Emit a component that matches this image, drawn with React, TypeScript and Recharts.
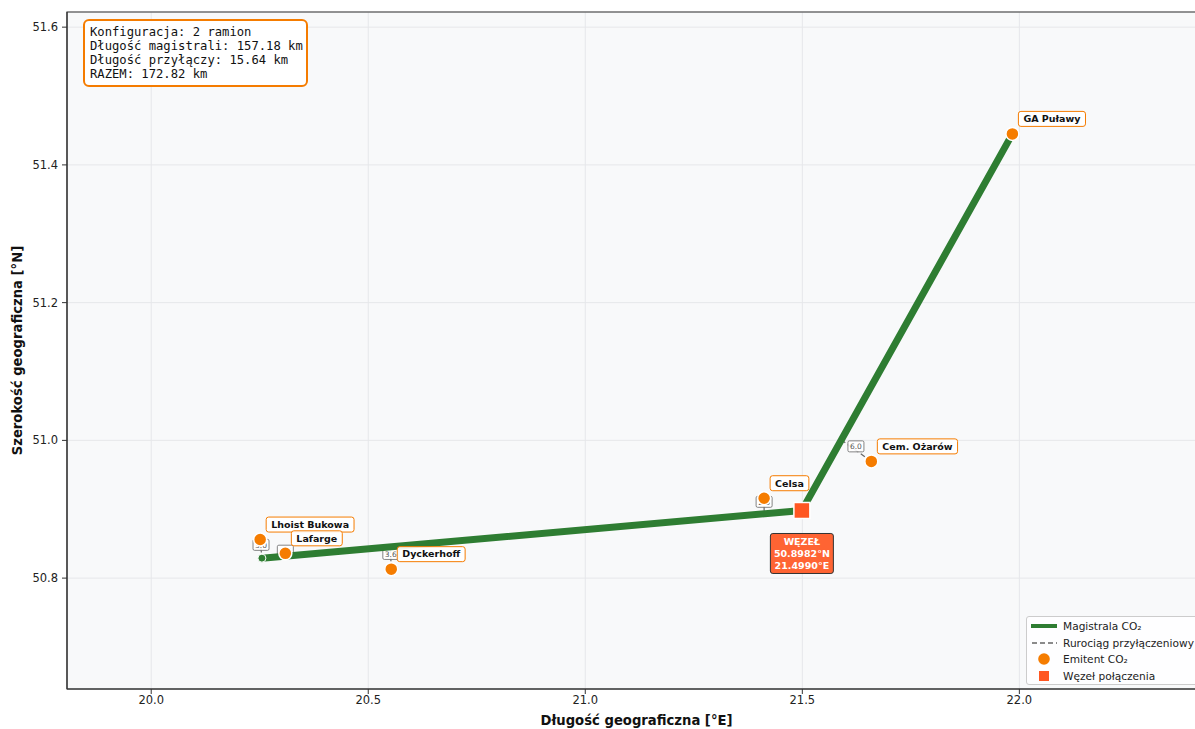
import { ScatterChart, Scatter, XAxis, YAxis, CartesianGrid, ReferenceArea } from "recharts";

// emitters (lon, lat)
const emitterNames = ["Lhoist Bukowa", "Lafarge", "Dyckerhoff", "Celsa", "Cem. Ożarów", "GA Puławy"];
const emitterLon = [20.251, 20.309, 20.553, 21.412, 21.659, 21.984];
const emitterLat = [50.856, 50.836, 50.813, 50.916, 50.9695, 51.445];

// connection pipes: emitter -> tie-in point on trunk
const pipeEmitter = [0, 1, 2, 3, 4];
const pipeTieLon = [20.255, 20.309, 20.551, 21.412, 21.588];
const pipeTieLat = [50.829, 50.832, 50.8456, 50.894, 51.0015];
const pipeKm = ["3.0", "0.4", "3.6", "2.6", "6.0"];

// trunk line
const trunkLon = [20.255, 21.499, 21.984];
const trunkLat = [50.829, 50.8982, 51.445];

const nodeLon = 21.499;
const nodeLat = 50.8982;

const xTicks = [20.0, 20.5, 21.0, 21.5, 22.0];
const yTicks = [50.8, 51.0, 51.2, 51.4, 51.6];
const xDomain = [19.806, 22.43];
const yDomain = [50.639, 51.622];

const infoLines = [
  "Konfiguracja: 2 ramion",
  "Długość magistrali: 157.18 km",
  "Długość przyłączy: 15.64 km",
  "RAZEM: 172.82 km",
];

const ORANGE = "#f57c00";
const NODE = "#ff5722";
const GREEN = "#2e7d32";
const FONT = "DejaVu Sans, sans-serif";

let ctx: CanvasRenderingContext2D | null = null;
function measure(text: string, font: string) {
  if (!ctx) ctx = document.createElement("canvas").getContext("2d");
  if (!ctx) return text.length * 6;
  ctx.font = font;
  return ctx.measureText(text).width;
}

const emitters = emitterNames.map((name, i) => ({ x: emitterLon[i], y: emitterLat[i], name }));
const trunk = trunkLon.map((x, i) => ({ x, y: trunkLat[i] }));
const pipes = pipeEmitter.map((e, i) => [
  { x: emitterLon[e], y: emitterLat[e] },
  { x: pipeTieLon[i], y: pipeTieLat[i] },
]);
const pipeMids = pipeEmitter.map((e, i) => ({
  x: (emitterLon[e] + pipeTieLon[i]) / 2,
  y: (emitterLat[e] + pipeTieLat[i]) / 2,
  km: pipeKm[i],
}));

const EmitterDot = (p: any) => (
  <circle cx={p.cx} cy={p.cy} r={6.5} fill={ORANGE} stroke="#fff" strokeWidth={1.5} />
);

const EmitterTag = (p: any) => {
  const text = p.payload.name;
  const w = measure(text, `bold 9.5px ${FONT}`);
  const x0 = p.cx + 6;
  const yc = p.cy - 15;
  return (
    <g>
      <rect x={x0} y={yc - 7.5} width={w + 10} height={15} rx={2.5} fill="#fff" fillOpacity={0.92} stroke={ORANGE} strokeWidth={1} />
      <text x={x0 + 5} y={yc + 3.3} fontSize={9.5} fontWeight="bold" fontFamily={FONT} fill="#111">
        {text}
      </text>
    </g>
  );
};

const PipeTag = (p: any) => {
  const yc = p.cy - 4;
  return (
    <g>
      <rect x={p.cx - 8} y={yc - 5.5} width={16} height={11} rx={1.5} fill="#fff" fillOpacity={0.9} stroke="#666" strokeWidth={0.8} />
      <text x={p.cx} y={yc + 2.8} fontSize={7.5} fontFamily={FONT} fill="#555" textAnchor="middle">
        {p.payload.km}
      </text>
    </g>
  );
};

const NodeMark = (p: any) => (
  <rect x={p.cx - 8} y={p.cy - 8} width={16} height={16} fill={NODE} stroke="#fff" strokeWidth={1.5} />
);

const NodeTag = (p: any) => {
  const lines = ["WĘZEŁ", `${nodeLat.toFixed(4)}°N`, `${nodeLon.toFixed(4)}°E`];
  const top = p.cy + 23;
  return (
    <g>
      <rect x={p.cx - 31.5} y={top} width={63} height={40} rx={2.5} fill={NODE} fillOpacity={0.92} stroke="#333" strokeWidth={1} />
      {lines.map((l, i) => (
        <text key={i} x={p.cx} y={top + 11.5 + i * 12} fontSize={9.5} fontWeight="bold" fontFamily={FONT} fill="#fff" textAnchor="middle">
          {l}
        </text>
      ))}
    </g>
  );
};

const StartDot = (p: any) => (
  <circle cx={p.cx} cy={p.cy} r={4} fill={GREEN} stroke="#fff" strokeWidth={1} />
);

const Nothing = () => <g />;

const XTitle = (p: any) => {
  const vb = p.viewBox;
  return (
    <text x={vb.x + vb.width / 2} y={725} fontSize={13.2} fontWeight="bold" fontFamily={FONT} fill="#111" textAnchor="middle">
      Długość geograficzna [°E]
    </text>
  );
};

const YTitle = (p: any) => {
  const vb = p.viewBox;
  const cy = vb.y + vb.height / 2;
  return (
    <text x={22} y={cy} fontSize={13.2} fontWeight="bold" fontFamily={FONT} fill="#111" textAnchor="middle" transform={`rotate(-90 22 ${cy})`}>
      Szerokość geograficzna [°N]
    </text>
  );
};

const legendRows = [
  { label: "Magistrala CO₂", kind: "trunk" },
  { label: "Rurociąg przyłączeniowy", kind: "pipe" },
  { label: "Emitent CO₂", kind: "emitter" },
  { label: "Węzeł połączenia", kind: "node" },
];

function LegendIcon({ kind }: { kind: string }) {
  return (
    <svg width={26} height={12} style={{ display: "block" }}>
      {kind === "trunk" && <line x1={0} y1={6} x2={26} y2={6} stroke={GREEN} strokeWidth={4} />}
      {kind === "pipe" && <line x1={1} y1={6} x2={26} y2={6} stroke="#666" strokeWidth={1.3} strokeDasharray="5 3" />}
      {kind === "emitter" && <circle cx={13} cy={6} r={5.8} fill={ORANGE} />}
      {kind === "node" && <rect x={8} y={1} width={10} height={10} fill={NODE} />}
    </svg>
  );
}

export default function App() {
  return (
    <div style={{ position: "absolute", left: 0, top: 0, width: 1195, height: 729, overflow: "hidden", background: "#fff" }}>
      <ScatterChart width={1216} height={729} margin={{ top: 12, right: 10, bottom: 0, left: 0 }}>
        <CartesianGrid stroke="#e6e7ea" strokeWidth={1} fill="#f8f9fa" vertical horizontal />
        <XAxis
          type="number"
          dataKey="x"
          domain={xDomain}
          ticks={xTicks}
          allowDataOverflow
          tickFormatter={(v: number) => v.toFixed(1)}
          height={40}
          tickSize={5}
          tickMargin={2}
          stroke="#333"
          tick={{ fill: "#222", fontSize: 11.5, fontFamily: FONT }}
          label={<XTitle />}
        />
        <YAxis
          type="number"
          dataKey="y"
          domain={yDomain}
          ticks={yTicks}
          allowDataOverflow
          tickFormatter={(v: number) => v.toFixed(1)}
          width={67}
          tickSize={5}
          tickMargin={4}
          stroke="#333"
          tick={{ fill: "#222", fontSize: 11.5, fontFamily: FONT }}
          label={<YTitle />}
        />
        <ReferenceArea x1={xDomain[0]} x2={xDomain[1]} y1={yDomain[0]} y2={yDomain[1]} fill="none" fillOpacity={0} stroke="#333" strokeWidth={1.2} />
        {pipes.map((d, i) => (
          <Scatter
            key={"pipe" + i}
            data={d}
            isAnimationActive={false}
            shape={Nothing}
            line={{ stroke: "#666", strokeWidth: 1.2, strokeDasharray: "5 3" }}
          />
        ))}
        <Scatter data={pipeMids} isAnimationActive={false} shape={PipeTag} />
        <Scatter
          data={trunk}
          isAnimationActive={false}
          shape={Nothing}
          line={{ stroke: GREEN, strokeWidth: 7, strokeLinecap: "butt", strokeLinejoin: "round" }}
        />
        <Scatter data={[trunk[0]]} isAnimationActive={false} shape={StartDot} />
        <Scatter data={emitters} isAnimationActive={false} shape={EmitterDot} />
        <Scatter data={[{ x: nodeLon, y: nodeLat }]} isAnimationActive={false} shape={NodeMark} />
        <Scatter data={emitters} isAnimationActive={false} shape={EmitterTag} />
        <Scatter data={[{ x: nodeLon, y: nodeLat }]} isAnimationActive={false} shape={NodeTag} />
      </ScatterChart>

      <div
        style={{
          position: "absolute",
          left: 83,
          top: 19,
          width: 211,
          padding: "4px 5px",
          border: `2px solid ${ORANGE}`,
          borderRadius: 6,
          background: "rgba(255,255,255,0.95)",
          fontFamily: "DejaVu Sans Mono, monospace",
          fontSize: 12.2,
          lineHeight: "14px",
          color: "#111",
          whiteSpace: "pre",
        }}
      >
        {infoLines.map((l, i) => (
          <div key={i}>{l}</div>
        ))}
      </div>

      <div
        style={{
          position: "absolute",
          left: 1026,
          top: 616,
          width: 190,
          height: 66,
          border: "1px solid #ccc",
          borderRadius: 3,
          background: "rgba(255,255,255,0.85)",
          fontFamily: FONT,
          fontSize: 10.6,
          color: "#222",
          paddingTop: 1,
        }}
      >
        {legendRows.map((r, i) => (
          <div key={i} style={{ display: "flex", alignItems: "center", height: 16.5, paddingLeft: 4 }}>
            <LegendIcon kind={r.kind} />
            <span style={{ marginLeft: 6, whiteSpace: "nowrap" }}>{r.label}</span>
          </div>
        ))}
      </div>
    </div>
  );
}
